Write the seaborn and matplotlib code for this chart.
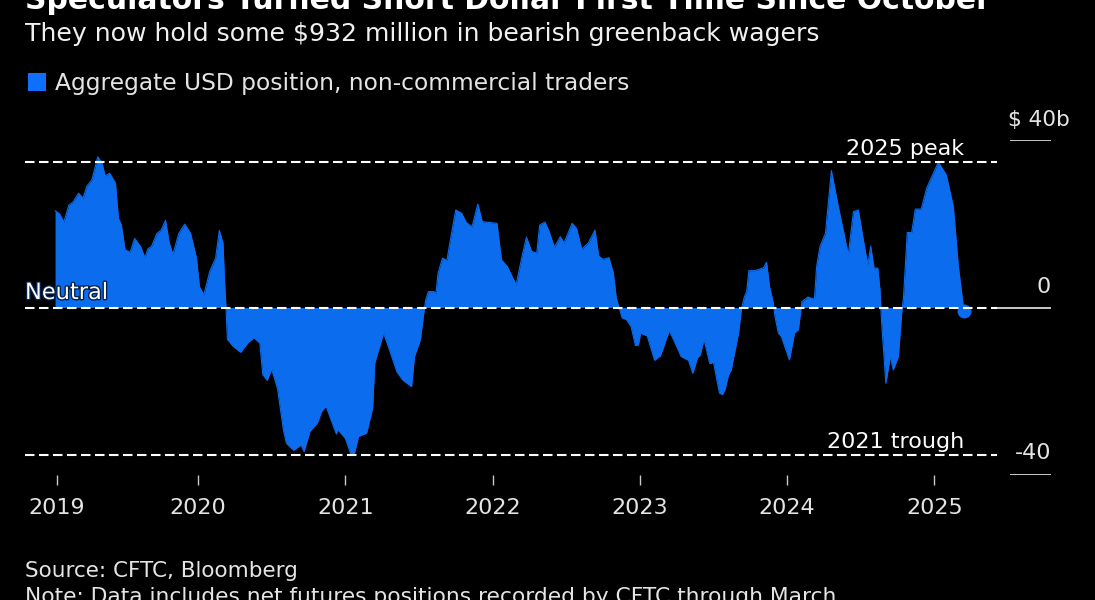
import matplotlib
matplotlib.use('Agg')
import matplotlib.pyplot as plt
import matplotlib.patheffects as pe
import pandas as pd
import seaborn as sns

years = [2019.03, 2019.06, 2019.09, 2019.124, 2019.15, 2019.19, 2019.22, 2019.245, 2019.28, 2019.32,
         2019.35, 2019.37, 2019.40, 2019.44, 2019.46, 2019.48, 2019.505, 2019.54, 2019.57, 2019.61,
         2019.64, 2019.66, 2019.685, 2019.72, 2019.75, 2019.78, 2019.805, 2019.83, 2019.87, 2019.91,
         2019.95, 2019.99, 2020.01, 2020.04, 2020.08, 2020.12, 2020.145, 2020.17, 2020.18, 2020.19,
         2020.20, 2020.24, 2020.29, 2020.34, 2020.38, 2020.42, 2020.44, 2020.47, 2020.50, 2020.54,
         2020.58, 2020.60, 2020.65, 2020.70, 2020.72, 2020.76, 2020.81, 2020.84, 2020.87, 2020.92,
         2020.94, 2020.95, 2021.0, 2021.04, 2021.06, 2021.09, 2021.145, 2021.186, 2021.20, 2021.26,
         2021.30, 2021.35, 2021.39, 2021.45, 2021.47, 2021.51, 2021.53, 2021.546, 2021.564, 2021.60,
         2021.616, 2021.63, 2021.66, 2021.69, 2021.71, 2021.75, 2021.79, 2021.82, 2021.86, 2021.90,
         2021.93, 2022.03, 2022.06, 2022.10, 2022.16, 2022.20, 2022.23, 2022.265, 2022.30, 2022.32,
         2022.355, 2022.38, 2022.42, 2022.46, 2022.485, 2022.54, 2022.57, 2022.605, 2022.65, 2022.695,
         2022.72, 2022.75, 2022.79, 2022.82, 2022.84, 2022.88, 2022.91, 2022.94, 2022.97, 2022.99,
         2023.005, 2023.05, 2023.10, 2023.14, 2023.20, 2023.25, 2023.28, 2023.33, 2023.36, 2023.39,
         2023.41, 2023.435, 2023.475, 2023.50, 2023.54, 2023.56, 2023.578, 2023.60, 2023.62, 2023.67,
         2023.69, 2023.71, 2023.725, 2023.74, 2023.78, 2023.84, 2023.86, 2023.88, 2023.906, 2023.917,
         2023.94, 2023.96, 2024.015, 2024.05, 2024.076, 2024.10, 2024.14, 2024.185, 2024.20, 2024.223,
         2024.26, 2024.30, 2024.347, 2024.415, 2024.45, 2024.483, 2024.517, 2024.547, 2024.567, 2024.59,
         2024.615, 2024.63, 2024.64, 2024.67, 2024.70, 2024.72, 2024.755, 2024.777, 2024.79, 2024.815,
         2024.845, 2024.87, 2024.91, 2024.947, 2025.026, 2025.08, 2025.128, 2025.162, 2025.196, 2025.20]

position = [23.1, 22.4, 20.4, 24.5, 25.1, 27.3, 26.1, 28.9, 30.5, 36.0,
            34.4, 31.4, 32.1, 29.7, 21.3, 19.7, 13.8, 13.2, 16.5, 14.6,
            11.9, 14.0, 14.6, 17.6, 18.5, 20.8, 15.4, 12.7, 17.7, 19.9,
            17.7, 11.8, 5.0, 3.0, 8.6, 11.8, 18.4, 15.4, 6.6, 0.2,
            -7.6, -9.3, -10.7, -8.4, -7.2, -8.5, -16.0, -17.4, -14.7, -19.3,
            -29.2, -32.4, -34.1, -32.8, -34.4, -29.6, -27.6, -24.8, -23.6, -28.4,
            -30.2, -29.2, -31.2, -35.2, -35.2, -30.8, -30.0, -24.0, -13.3, -6.1,
            -10.1, -15.3, -17.3, -18.9, -11.7, -7.7, -2.1, 1.8, 3.8, 3.8,
            3.4, 8.2, 11.8, 11.2, 15.4, 23.3, 22.5, 20.4, 19.2, 24.7,
            20.5, 20.1, 11.4, 9.8, 5.4, 12.2, 16.8, 13.4, 13.0, 19.7,
            20.4, 18.5, 14.4, 16.9, 15.4, 20.1, 18.9, 13.9, 15.4, 18.5,
            12.3, 11.5, 11.9, 8.2, 2.2, -2.5, -2.9, -4.5, -9.1, -8.9,
            -6.1, -6.8, -12.6, -11.5, -5.5, -9.3, -11.7, -12.6, -15.7, -12.1,
            -11.3, -7.6, -13.4, -13.1, -20.4, -20.8, -19.6, -16.3, -14.9, -6.1,
            -0.2, 2.6, 3.8, 8.8, 8.8, 9.5, 10.8, 5.0, 1.0, -2.1,
            -6.1, -6.9, -12.5, -6.1, -5.3, 1.4, 2.5, 2.0, 9.8, 14.6,
            17.7, 32.7, 24.1, 12.6, 22.9, 23.3, 16.1, 10.2, 14.6, 9.4,
            9.4, 4.2, -2.9, -18.1, -11.7, -14.9, -11.7, -1.4, 2.6, 17.9,
            17.9, 23.5, 23.5, 28.5, 34.7, 31.7, 24.1, 9.8, 0.2, -0.932]

tick_years = [2019.04, 2020, 2021, 2022, 2023, 2024, 2025]
tick_labels = ['2019', '2020', '2021', '2022', '2023', '2024', '2025']
peak_2025 = 34.8
trough_2021 = -35.3
neutral = 0
y_levels = [40, 0, -40]

BLUE = '#0B6CEE'
GREY = '#c8c8c8'
TEXT = '#e4e4e4'

df = pd.DataFrame({'year': years, 'position': position})

sns.set_theme(style='dark', rc={'figure.facecolor': 'black', 'axes.facecolor': 'black'})
plt.rcParams['font.family'] = ['DejaVu Sans']

fig = plt.figure(figsize=(10.95, 6), dpi=100)
ax = fig.add_axes([25 / 1095, 125 / 600, 1026 / 1095, 335 / 600])

ax.fill_between(df['year'], df['position'], 0, color=BLUE, linewidth=0, label='Aggregate USD position, non-commercial traders')
sns.lineplot(data=df, x='year', y='position', color=BLUE, linewidth=0.8, ax=ax, legend=False)
sns.scatterplot(data=df.tail(1), x='year', y='position', color=BLUE, s=100, linewidth=0, ax=ax, legend=False, zorder=4)

ax.set_xlim(2018.826, 2025.791)
ax.set_ylim(-40, 40)
sns.despine(ax=ax, left=True, bottom=True, right=True, top=True)

# dashed reference lines stop short of the value scale
for level in [peak_2025, neutral, trough_2021]:
    ax.plot([2018.826, 2025.424], [level, level], color='white', linewidth=1.5,
            linestyle=(0, (4.56, 2.16)), dash_capstyle='butt', zorder=5)

# value scale on the right: short rules with labels sitting on them
ax.hlines(y_levels, 2025.51, 2025.791, color=GREY, linewidth=1.4, zorder=3)
ax.hlines(0, 2025.424, 2025.51, color=GREY, linewidth=1.4, zorder=3)
fig.text(1070 / 1095, 1 - 126 / 600, '$ 40b', color=TEXT, fontsize=15.6, ha='right', va='baseline')
fig.text(1051 / 1095, 1 - 293 / 600, '0', color=TEXT, fontsize=16, ha='right', va='baseline')
fig.text(1051 / 1095, 1 - 459 / 600, '-40', color=TEXT, fontsize=16, ha='right', va='baseline')

ax.set_xticks(tick_years)
ax.set_xticklabels(tick_labels, color=TEXT, fontsize=16)
ax.set_yticks([])
ax.tick_params(axis='x', bottom=True, length=7.2, width=1, color=GREY, pad=9)
ax.set_xlabel('')
ax.set_ylabel('')

fig.text(964 / 1095, 1 - 155 / 600, '2025 peak', color='white', fontsize=16, ha='right', va='baseline')
fig.text(964 / 1095, 1 - 448 / 600, '2021 trough', color='white', fontsize=16, ha='right', va='baseline')
fig.text(25 / 1095, 1 - 299 / 600, 'Neutral', color='white', fontsize=16.2, ha='left', va='baseline', zorder=6,
         path_effects=[pe.withStroke(linewidth=2, foreground='#05204a')])

fig.text(25 / 1095, 1 - 9 / 600, 'Speculators Turned Short Dollar First Time Since October', color='white',
         fontsize=21.55, fontweight='bold', ha='left', va='baseline')
fig.text(25 / 1095, 1 - 41 / 600, 'They now hold some $932 million in bearish greenback wagers', color='#f0f0f0',
         fontsize=18.13, ha='left', va='baseline')
fig.text(25 / 1095, 1 - 577 / 600, 'Source: CFTC, Bloomberg', color=TEXT, fontsize=15.5, ha='left', va='baseline')
fig.text(25 / 1095, 1 - 603 / 600, 'Note: Data includes net futures positions recorded by CFTC through March', color=TEXT,
         fontsize=15.65, ha='left', va='baseline')

leg = fig.legend(*ax.get_legend_handles_labels(), loc='upper left', bbox_to_anchor=(19 / 1095, 1 - 63 / 600),
                 frameon=False, fontsize=16.85, handlelength=0.77, handleheight=0.77, handletextpad=0.38, borderaxespad=0)
leg.get_texts()[0].set_color(TEXT)
leg.legend_handles[0].set_facecolor('#0F6FFF')

plt.savefig('out.png', dpi=100, facecolor='black')
